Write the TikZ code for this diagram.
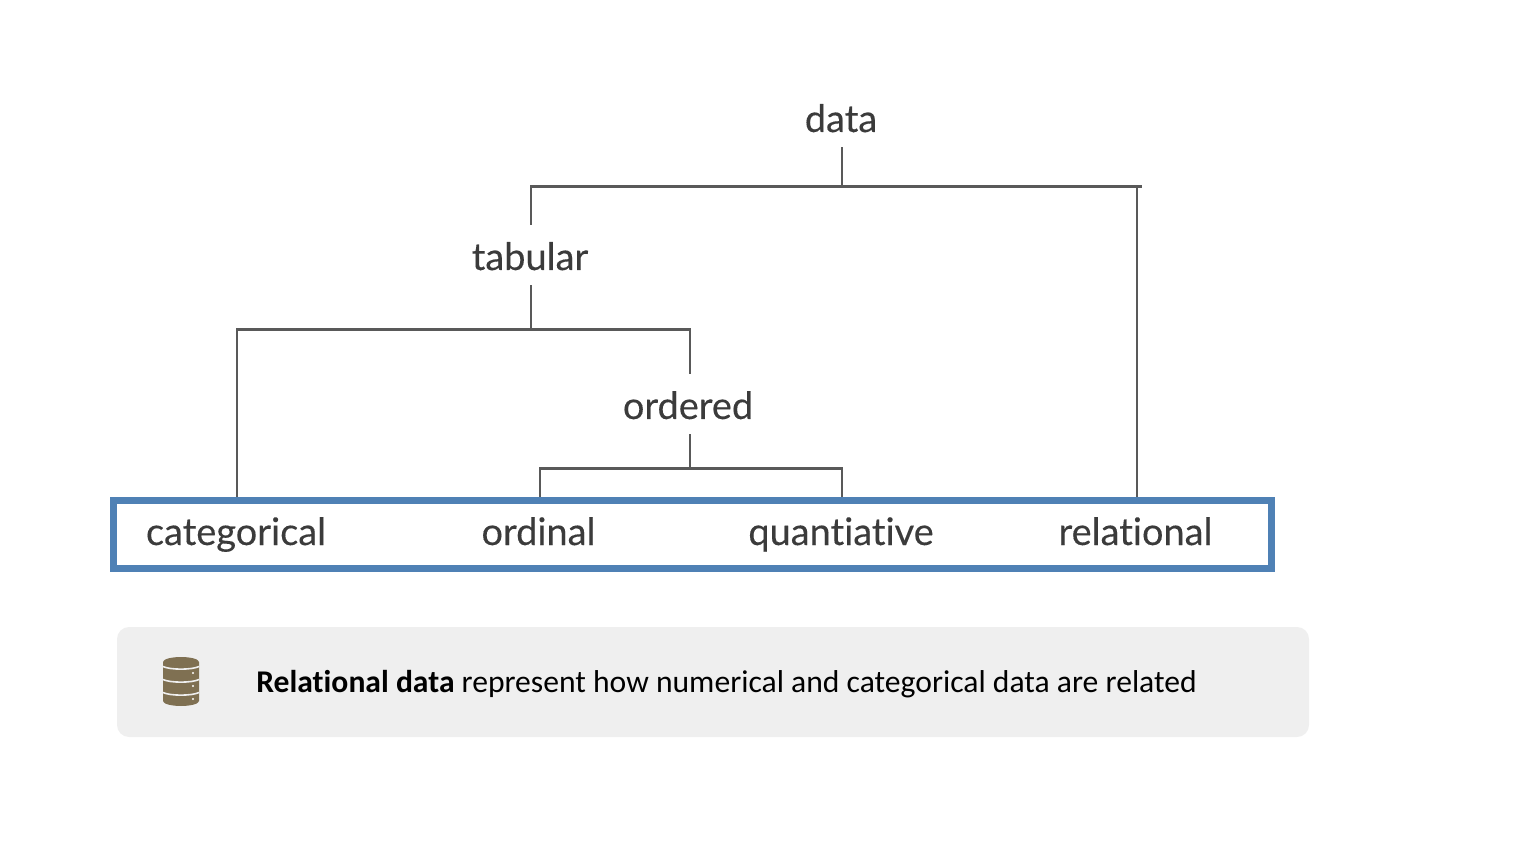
\documentclass[tikz,border=0pt]{standalone}
\usepackage{fontspec}
\setmainfont[Ligatures=NoCommon]{Carlito}
\newfontfamily\treefont[Ligatures=NoCommon,FakeBold=0.25]{Lato}
\definecolor{treegray}{HTML}{595959}
\definecolor{labelgray}{HTML}{3B3B3B}
\definecolor{boxblue}{HTML}{4F81B5}
\definecolor{notegray}{HTML}{EFEFEF}
\definecolor{iconbrown}{HTML}{7F7052}
\tikzset{
    treelabel/.style={anchor=base,inner sep=0pt,text height=0.9cm,text depth=0.3cm,text=labelgray,font=\treefont\fontsize{21.6}{25}\selectfont},
    treeline/.style={draw=treegray,line width=1.6pt},
}
\begin{document}
\begin{tikzpicture}[x=0.02cm,y=-0.02cm]
    \useasboundingbox (0,0) rectangle (1527,857);
    % labels
    \node[treelabel] (data) at (841,132) {data};
    \node[treelabel] (tabular) at (530,270) {tabular};
    \node[treelabel] (ordered) at (688,419) {ordered};
    \node[treelabel] (categorical) at (236,545) {categorical};
    \node[treelabel] (ordinal) at (538.5,545) {ordinal};
    \node[treelabel] (quantiative) at (841,545) {quantiative};
    \node[treelabel] (relational) at (1135.5,545) {relational};
    % junctions of the tree
    \coordinate (dataJ) at (842,186.5);
    \coordinate (tabularJ) at (531,186.5);
    \coordinate (relationalJ) at (1137,186.5);
    \coordinate (busEnd) at (1142,186.5);
    \coordinate (splitJ) at (531,329.5);
    \coordinate (categoricalJ) at (237,329.5);
    \coordinate (orderedJ) at (690,329.5);
    \coordinate (lowJ) at (690,468.5);
    \coordinate (ordinalJ) at (540,468.5);
    \coordinate (quantiativeJ) at (842,468.5);
    \draw[treeline] (dataJ |- data.south) -- (dataJ);
    \draw[treeline] (tabularJ |- tabular.north) -- (tabularJ) -- (busEnd);
    \draw[treeline] (relationalJ) -- (relationalJ |- relational.north);
    \draw[treeline] (splitJ |- tabular.south) -- (splitJ);
    \draw[treeline] (categoricalJ |- categorical.north) -- (categoricalJ) -- (orderedJ) -- (orderedJ |- ordered.north);
    \draw[treeline] (lowJ |- ordered.south) -- (lowJ);
    \draw[treeline] (ordinalJ |- ordinal.north) -- (ordinalJ) -- (quantiativeJ) -- (quantiativeJ |- quantiative.north);
    % blue frame
    \draw[boxblue,line width=3.7pt] (113.5,500.5) rectangle (1271.5,568.5);
    % note
    \fill[notegray,rounded corners=0.24cm] (117,627) rectangle (1309,737);
    \fill[iconbrown] (163,662) -- (163,701) arc[start angle=180,end angle=360,x radius=18,y radius=-5] -- (199,662) arc[start angle=0,end angle=180,x radius=18,y radius=-5] -- cycle;
    \foreach \y in {0,13,26}{
        \draw[notegray,line width=0.9pt] (163,666.5+\y) .. controls (170,670+\y) and (192,670+\y) .. (199,666.5+\y);
        \fill[white] (193,673+\y) circle (1.2);
    }
    \node[anchor=base west,inner sep=0pt,font=\fontsize{18}{22}\selectfont,text=black] (note) at (256,692) {\textbf{Relational data} represent how numerical and categorical data are related};
\end{tikzpicture}
\end{document}
